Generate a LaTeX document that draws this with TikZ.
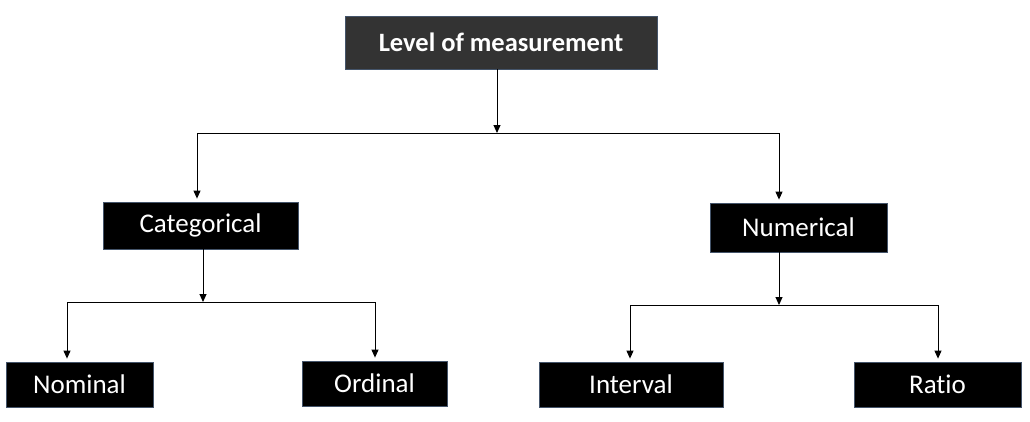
\documentclass[tikz,border=0pt]{standalone}
\usepackage{fontspec}
\setmainfont{Carlito}[Ligatures={NoCommon}]
\usetikzlibrary{arrows.meta}
\begin{document}
\begin{tikzpicture}[x=1pt,y=-1pt,
  box/.style={rectangle, draw=bordercol, line width=0.8pt, fill=black, text=white, inner sep=0pt,
    font=\fontsize{27}{30}\selectfont},
  topbox/.style={box, fill=topfill, font=\fontsize{26.5}{30}\selectfont\bfseries},
  link/.style={line width=1pt, draw=black},
  arr/.style={link, -{Triangle[length=8pt,width=7pt]}, shorten >=3pt}]
\definecolor{bordercol}{HTML}{44546A}
\definecolor{topfill}{HTML}{333333}
\useasboundingbox (0,0) rectangle (1030,421);
\node[topbox, minimum width=312pt, minimum height=53pt] (top) at (501,42.5) {Level of measurement};
\node[box, minimum width=195pt, minimum height=47pt] (cat) at (200.5,225.5) {Categorical};
\node[box, minimum width=177pt, minimum height=49pt] (num) at (798.5,227.5) {Numerical};
\node[box, minimum width=147pt, minimum height=45pt] (nom) at (79.5,384.5) {Nominal};
\node[box, minimum width=145pt, minimum height=45pt] (ord) at (374.5,383.5) {Ordinal};
\node[box, minimum width=184pt, minimum height=45pt] (int) at (631,384.5) {Interval};
\node[box, minimum width=167pt, minimum height=45pt] (rat) at (937.5,384.5) {Ratio};
\coordinate (j1) at (497,133);
\coordinate (j1l) at (197,133);
\coordinate (j1r) at (779,133);
\coordinate (j2) at (203,302);
\coordinate (j2l) at (67,302);
\coordinate (j2r) at (375,302);
\coordinate (j3) at (779,305);
\coordinate (j3l) at (630,305);
\coordinate (j3r) at (938,305);
\draw[arr, shorten >=0pt] (top.south -| j1) -- (j1);
\draw[link] (j1l) -- (j1r);
\draw[arr] (j1l) -- (j1l |- cat.north);
\draw[arr] (j1r) -- (j1r |- num.north);
\draw[arr, shorten >=0pt] (cat.south -| j2) -- (j2);
\draw[link] (j2l) -- (j2r);
\draw[arr] (j2l) -- (j2l |- nom.north);
\draw[arr] (j2r) -- (j2r |- ord.north);
\draw[arr, shorten >=0pt] (num.south -| j3) -- (j3);
\draw[link] (j3l) -- (j3r);
\draw[arr] (j3l) -- (j3l |- int.north);
\draw[arr] (j3r) -- (j3r |- rat.north);
\end{tikzpicture}
\end{document}
